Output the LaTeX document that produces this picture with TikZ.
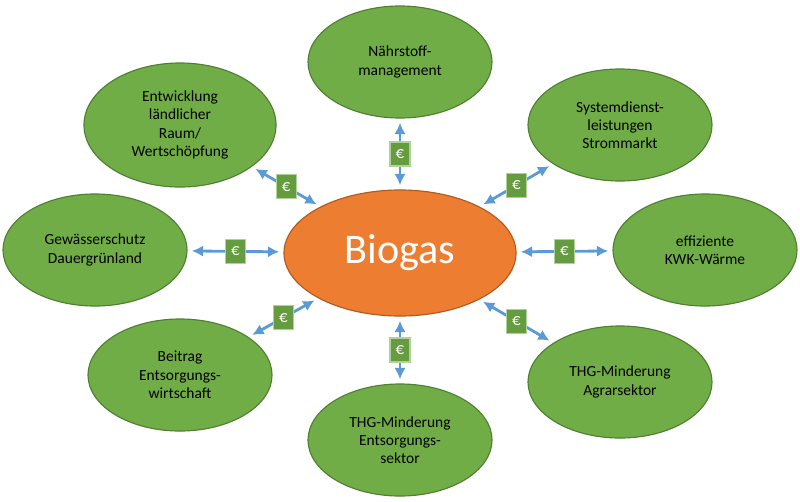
\documentclass[tikz,border=0pt]{standalone}
\usepackage{fontspec}
\setmainfont{Carlito}
\usetikzlibrary{shapes.geometric,arrows.meta}
\definecolor{leaf}{HTML}{70AD47}
\definecolor{leafdark}{HTML}{507E32}
\definecolor{core}{HTML}{ED7D31}
\definecolor{coredark}{HTML}{AE5A21}
\definecolor{link}{HTML}{5B9BD5}
\tikzset{
    field/.style={ellipse, draw=leafdark, fill=leaf, thick, minimum width=4.6cm, minimum height=2.8cm,
        align=center, font=\fontsize{11}{13}\selectfont},
    hub/.style={ellipse, draw=coredark, fill=core, thick, minimum width=5.8cm, minimum height=3.15cm,
        font=\fontsize{30}{32}\selectfont, text=white},
    flow/.style={{Latex[length=8pt,width=8pt]}-{Latex[length=8pt,width=8pt]}, link, line width=2pt, shorten <=3pt, shorten >=3pt},
    euro/.style={draw=leaf!55!white, fill=leaf!90!black, text=white, thick, inner sep=0pt, minimum width=0.5cm, minimum height=0.6cm,
        font=\fontsize{12}{13}\selectfont}
}
\begin{document}
\begin{tikzpicture}[x=0.025cm,y=-0.025cm]
    \useasboundingbox (0,0) rectangle (800,501);
    \node[hub] (bio) at (400,253) {Biogas};
    \node[field] (n1) at (400,62) {Nährstoff-\\management};
    \node[field, minimum width=4.8cm, minimum height=3.1cm] (n2) at (180,125) {Entwicklung\\ländlicher\\Raum/\\Wertschöpfung};
    \node[field] (n3) at (620,125) {Systemdienst-\\leistungen\\Strommarkt};
    \node[field] (n4) at (95,250) {Gewässerschutz\\Dauergrünland};
    \node[field] (n5) at (705,250) {effiziente\\KWK-Wärme};
    \node[field] (n6) at (180,375) {Beitrag\\Entsorgungs-\\wirtschaft};
    \node[field] (n7) at (620,382) {THG-Minderung\\Agrarsektor};
    \node[field] (n8) at (400,440) {THG-Minderung\\Entsorgungs-\\sektor};
    % links
    \foreach \t in {n1,n2,n3,n4,n5,n6,n7,n8}{
        \draw[flow] (bio) -- (\t) node[midway, euro] {€};
    }
\end{tikzpicture}
\end{document}
